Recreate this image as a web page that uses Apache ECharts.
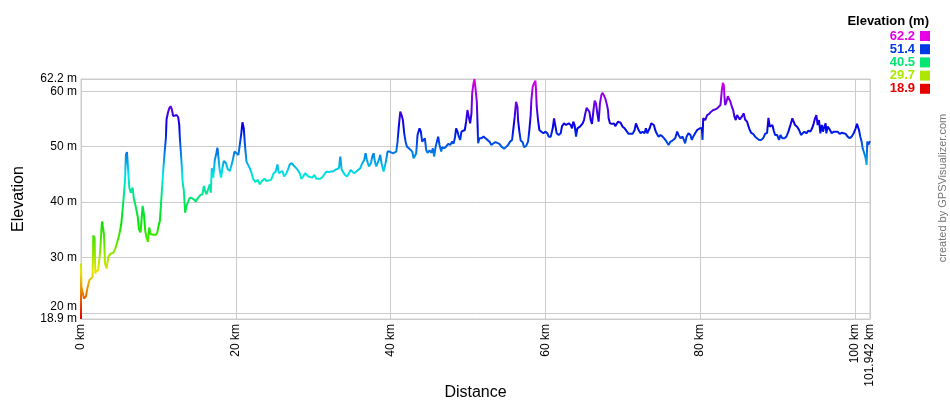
<!DOCTYPE html>
<html><head><meta charset="utf-8">
<script src="https://cdn.jsdelivr.net/npm/echarts@6/dist/echarts.min.js"></script>
<style>html,body{margin:0;padding:0;background:#fff}#c{width:950px;height:400px}</style>
</head><body><div id="c"></div>
<script>
const distanceKm = [0,0.01,0.05,0.39,0.65,0.82,1.08,1.5,1.59,1.76,1.85,1.94,2.2,2.45,2.62,2.71,2.88,2.97,3.1,3.3,3.53,3.83,4.17,4.43,4.69,4.95,5.2,5.38,5.55,5.68,5.81,5.94,6.06,6.24,6.45,6.67,6.84,7.01,7.18,7.35,7.48,7.7,7.96,8.13,8.3,8.47,8.64,8.82,8.99,9.16,9.42,9.68,9.85,10.02,10.19,10.32,10.45,10.62,10.8,10.97,11.05,11.23,11.4,11.57,11.74,11.91,12.13,12.35,12.56,12.69,12.77,12.95,13.03,13.12,13.29,13.46,13.63,13.85,14.06,14.32,14.58,14.84,15.14,15.44,15.7,15.87,16.04,16.22,16.43,16.64,16.77,16.9,17.08,17.29,17.5,17.63,17.76,17.93,18.1,18.28,18.45,18.71,18.97,19.23,19.57,19.83,20.08,20.34,20.69,20.86,21.03,21.2,21.38,21.59,21.81,21.98,22.24,22.5,22.84,23.1,23.36,23.7,23.96,24.21,24.56,24.9,25.16,25.38,25.55,25.76,26.02,26.24,26.54,26.75,26.97,27.23,27.48,27.74,28.0,28.26,28.47,28.69,28.95,29.16,29.38,29.63,29.89,30.15,30.41,30.66,30.92,31.27,31.52,31.78,32.04,32.3,32.56,32.82,33.07,33.33,33.5,33.68,33.85,34.11,34.37,34.63,34.84,35.05,35.31,35.57,35.82,36.08,36.34,36.6,36.77,36.94,37.2,37.46,37.63,37.8,37.97,38.14,38.31,38.49,38.66,38.83,39.09,39.35,39.61,39.87,40.3,40.73,40.9,41.08,41.25,41.42,41.59,41.76,41.94,42.11,42.37,42.54,42.8,42.97,43.14,43.31,43.48,43.74,43.91,44.08,44.26,44.43,44.6,44.77,45.03,45.29,45.46,45.63,45.81,45.98,46.15,46.32,46.54,46.66,46.92,47.18,47.44,47.7,47.96,48.13,48.3,48.47,48.65,48.82,48.99,49.16,49.33,49.59,49.76,49.93,50.1,50.28,50.45,50.54,50.71,50.84,50.97,51.14,51.22,51.31,51.48,51.74,52.0,52.26,52.51,52.77,53.03,53.29,53.55,53.8,54.06,54.32,54.49,54.67,54.92,55.18,55.44,55.7,55.87,56.04,56.21,56.39,56.47,56.64,56.81,57.07,57.24,57.5,57.76,57.93,58.1,58.19,58.36,58.53,58.71,58.79,58.88,59.05,59.22,59.48,59.74,60.0,60.26,60.43,60.69,60.95,61.12,61.29,61.46,61.72,61.98,62.15,62.41,62.67,63.01,63.27,63.44,63.61,63.78,63.96,64.13,64.3,64.47,64.65,64.82,64.99,65.16,65.33,65.5,65.68,65.85,66.02,66.19,66.37,66.54,66.71,66.88,67.05,67.23,67.4,67.57,67.74,67.91,68.09,68.17,68.34,68.6,68.86,69.03,69.2,69.38,69.55,69.72,69.98,70.24,70.49,70.75,71.01,71.27,71.53,71.7,71.87,72.04,72.3,72.56,72.82,72.99,73.16,73.33,73.5,73.68,73.85,74.02,74.19,74.37,74.62,74.88,75.14,75.4,75.66,75.91,76.17,76.43,76.77,77.03,77.2,77.46,77.72,77.89,78.06,78.24,78.49,78.75,78.92,79.1,79.35,79.61,79.96,80.22,80.3,80.39,80.65,80.9,81.16,81.42,81.68,81.94,82.2,82.45,82.62,82.8,82.93,83.06,83.14,83.23,83.4,83.57,83.74,83.91,84.09,84.26,84.43,84.6,84.77,84.95,85.12,85.38,85.63,85.8,86.06,86.32,86.58,86.84,87.1,87.35,87.61,87.87,88.13,88.39,88.65,88.82,88.99,89.16,89.33,89.5,89.68,89.94,90.19,90.37,90.62,90.88,91.14,91.4,91.66,91.91,92.09,92.26,92.52,92.78,93.03,93.2,93.46,93.72,93.98,94.24,94.49,94.67,94.84,95.01,95.18,95.35,95.53,95.7,95.87,96.04,96.21,96.3,96.47,96.73,96.99,97.25,97.5,97.76,98.02,98.28,98.54,98.8,99.05,99.31,99.57,99.83,100.09,100.26,100.43,100.52,100.69,100.86,100.99,101.2,101.38,101.5,101.59,101.72,101.942];
const elevationM = [18.9,28.9,24.7,22.6,23.0,24.4,25.9,26.5,34.0,33.4,27.1,27.6,27.6,30.7,34.4,36.5,36.2,34.2,28.9,28.0,30.1,30.7,30.8,31.6,32.8,34.2,36.0,38.7,41.4,43.8,48.6,49.0,46.5,42.6,41.7,42.6,40.5,39.6,39.3,37.2,35.1,34.5,39.3,37.8,34.8,33.6,32.8,35.4,34.2,34.1,34.1,34.1,34.5,35.7,36.6,39.3,42.0,45.6,48.9,51.6,54.9,56.1,56.9,57.3,56.7,55.5,55.7,55.7,55.3,54.0,51.6,48.0,46.2,43.8,42.0,38.1,39.3,39.6,40.8,40.7,40.5,40.1,40.8,41.3,41.4,42.9,42.0,41.4,42.3,43.2,41.7,46.1,44.4,47.6,48.9,49.8,48.0,45.6,44.4,46.2,47.4,47.1,45.9,45.6,47.3,49.1,48.8,48.5,52.1,54.4,53.3,50.0,47.3,46.7,46.1,45.5,44.2,43.6,44.0,43.2,43.8,44.2,43.8,43.8,44.0,45.2,45.5,46.8,45.2,45.2,45.6,44.6,45.2,45.9,46.8,47.0,46.6,46.2,45.8,45.2,44.2,44.6,45.2,45.5,44.6,44.9,44.4,44.9,44.2,44.4,44.2,44.6,45.2,45.5,45.4,45.5,45.5,45.8,46.1,46.1,48.2,45.8,45.5,44.9,44.6,45.2,45.8,46.1,45.2,45.5,45.6,46.1,47.0,47.6,48.8,47.6,46.4,47.0,48.2,48.8,47.3,46.4,46.1,47.6,48.5,47.0,45.5,47.0,49.1,49.1,48.8,49.1,50.9,53.9,56.3,55.7,54.8,52.4,50.9,50.0,49.7,50.0,49.1,47.9,48.3,48.8,52.1,53.3,52.7,50.9,50.6,51.5,49.4,48.9,49.3,48.9,49.7,48.2,49.9,50.9,51.8,50.3,49.1,49.9,49.7,50.0,50.5,50.3,50.9,50.5,51.5,53.3,52.7,51.8,51.2,52.7,52.4,53.0,54.5,56.6,55.4,54.2,56.0,59.6,61.4,62.2,60.5,58.1,54.8,50.6,51.5,51.5,51.8,51.5,51.2,50.9,50.3,50.6,50.8,50.8,50.5,50.0,50.3,49.6,49.7,50.3,50.9,51.2,53.3,55.4,58.1,57.2,54.8,52.7,51.1,50.8,49.9,50.1,50.9,53.0,55.7,58.4,60.8,61.4,61.9,60.2,57.2,54.8,53.0,52.7,52.4,52.7,52.4,51.8,51.8,53.3,55.1,54.8,52.4,52.1,52.4,53.7,54.2,53.9,54.2,53.9,53.3,54.5,53.9,51.8,53.3,53.0,53.6,53.3,54.2,54.8,56.0,57.0,57.2,56.3,54.8,54.1,56.3,58.3,57.8,56.0,54.5,57.8,59.3,59.7,59.5,58.7,57.8,56.6,55.1,54.2,54.1,54.2,53.7,53.9,54.5,54.8,54.3,53.6,53.3,53.0,52.3,52.3,52.3,53.0,54.2,54.5,53.0,52.4,52.7,52.4,53.3,52.4,52.7,53.4,54.2,54.5,53.9,53.0,52.4,51.8,52.1,51.8,51.4,50.9,50.3,50.9,51.1,51.5,52.7,52.1,51.5,51.8,51.2,50.6,51.8,52.4,52.1,51.2,51.8,52.4,53.0,53.3,53.3,51.2,55.1,54.8,55.7,55.9,56.3,56.6,56.7,56.9,57.0,57.5,60.2,61.5,61.1,59.0,57.5,58.1,59.1,58.9,58.1,57.2,56.6,55.4,54.8,55.7,55.4,54.9,55.4,56.0,54.9,54.5,53.3,52.5,52.3,51.8,51.5,51.2,51.2,51.5,52.3,52.5,55.2,53.6,53.3,53.9,52.9,52.1,52.1,51.2,52.1,51.5,51.5,51.8,52.7,53.9,55.1,54.8,53.9,53.6,53.0,52.1,51.8,52.7,52.4,52.9,52.7,53.4,54.2,55.1,55.7,53.9,54.8,52.4,53.9,52.7,53.6,54.2,52.4,53.6,53.1,52.4,52.7,52.5,52.7,52.3,52.5,52.4,52.3,51.8,51.5,51.8,52.4,53.3,54.1,54.2,53.0,51.8,50.9,49.7,48.8,47.9,46.7,50.9,50.3,51.0];
const legendValues = [62.2, 51.4, 40.5, 29.7, 18.9];
const yTickValues = [20, 30, 40, 50, 60];
const yExtentLabels = [18.9, 62.2];
const xTickValues = [0, 20, 40, 60, 80, 100, 101.942];
const elevMin = 18.9, elevMax = 62.2, distMax = 101.942;

function hueColor(h) {
  const v = 0.9, c = v, x = c * (1 - Math.abs((h / 60) % 2 - 1));
  let r = 0, g = 0, b = 0;
  if (h < 60) { r = c; g = x; } else if (h < 120) { r = x; g = c; }
  else if (h < 180) { g = c; b = x; } else if (h < 240) { g = x; b = c; }
  else if (h < 300) { r = x; b = c; } else { r = c; b = x; }
  const hx = n => Math.round(n * 255).toString(16).padStart(2, '0');
  return '#' + hx(r) + hx(g) + hx(b);
}
function colorFor(val) { return hueColor(Math.min(300, Math.max(0, (val - elevMin) / (elevMax - elevMin) * 300))); }
const stops = [];
for (let h = 0; h <= 300; h += 15) stops.push(hueColor(h));

const FONT = "'Liberation Sans', Arial, sans-serif";
const graphics = [{
  type: 'text', right: 21, top: 15,
  style: { text: 'Elevation (m)', font: 'bold 13px ' + FONT, fill: '#000' }
}];
legendValues.forEach((v, i) => {
  const y = 36 + i * 13.2;
  graphics.push({ type: 'text', x: 915, y: y,
    style: { text: v.toFixed(1), font: 'bold 13px ' + FONT, fill: colorFor(v), align: 'right', verticalAlign: 'middle' } });
  graphics.push({ type: 'rect', shape: { x: 920, y: y - 5, width: 10, height: 10 }, style: { fill: colorFor(v) } });
});
graphics.push({ type: 'text', x: 943, y: 188, rotation: Math.PI / 2,
  style: { text: 'created by GPSVisualizer.com', font: '11px ' + FONT, fill: '#777', align: 'center', verticalAlign: 'middle' } });

const yLabelCommon = { fontSize: 12, color: '#000', margin: 4, showMinLabel: true, showMaxLabel: true,
  hideOverlap: false, formatter: v => v + ' m' };
const hiddenAxisParts = { axisLine: { show: false }, axisTick: { show: false }, splitLine: { show: false } };

const chart = echarts.init(document.getElementById('c'), null, { renderer: 'canvas' });
chart.setOption({
  animation: false,
  backgroundColor: '#fff',
  textStyle: { fontFamily: FONT },
  grid: { left: 81, right: 80, top: 79, bottom: 81, show: true, borderColor: '#ccc', borderWidth: 1,
    containLabel: false, outerBoundsMode: 'none' },
  xAxis: {
    type: 'value', min: 0, max: distMax,
    name: 'Distance', nameLocation: 'middle', nameGap: 66, nameMoveOverlap: false,
    nameTextStyle: { fontSize: 16, color: '#000', fontFamily: FONT },
    axisLine: { show: true, lineStyle: { color: '#ccc' } },
    axisTick: { show: false },
    splitLine: { show: true, lineStyle: { color: '#ccc' } },
    axisLabel: { rotate: 90, fontSize: 12, color: '#000', margin: 5, customValues: xTickValues,
      showMinLabel: true, showMaxLabel: true, hideOverlap: false, formatter: v => v + ' km' }
  },
  yAxis: [{
    type: 'value', min: elevMin, max: elevMax, position: 'left',
    name: 'Elevation', nameLocation: 'middle', nameGap: 54, nameRotate: 90, nameMoveOverlap: false,
    nameTextStyle: { fontSize: 16, color: '#000', fontFamily: FONT },
    axisLine: { show: true, lineStyle: { color: '#ccc' } },
    axisTick: { show: false },
    splitLine: { show: true, lineStyle: { color: '#ccc' } },
    axisLabel: Object.assign({}, yLabelCommon, { customValues: yTickValues.slice(1) })
  }, Object.assign({
    type: 'value', min: elevMin, max: elevMax, position: 'left', offset: 0,
    axisLabel: Object.assign({}, yLabelCommon, { customValues: yExtentLabels })
  }, hiddenAxisParts), Object.assign({
    type: 'value', min: elevMin, max: elevMax, position: 'left', offset: 0,
    axisLabel: Object.assign({}, yLabelCommon, { customValues: yTickValues.slice(0, 1), verticalAlign: 'bottom' })
  }, hiddenAxisParts)],
  visualMap: { type: 'continuous', show: false, min: elevMin, max: elevMax, dimension: 1, seriesIndex: 0,
    inRange: { color: stops } },
  series: [{
    type: 'line', showSymbol: false, symbol: 'none', yAxisIndex: 0,
    data: distanceKm.map((d, i) => [d, elevationM[i]]),
    lineStyle: { width: 2 }
  }],
  graphic: graphics
});
</script></body></html>
